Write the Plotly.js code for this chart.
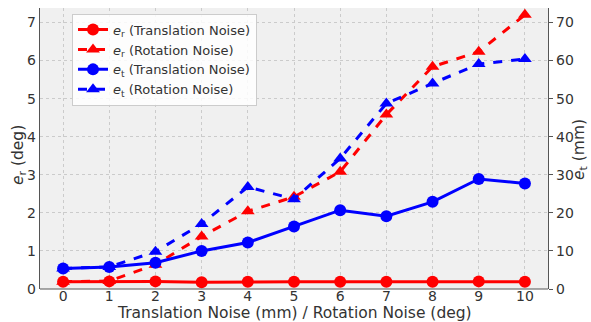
<!DOCTYPE html>
<html>
<head>
<meta charset="utf-8">
<script src="https://cdn.plot.ly/plotly-3.0.1.min.js"></script>
<style>html,body{margin:0;padding:0;background:#fff;}#chart{width:591px;height:322px;}</style>
</head>
<body>
<div id="chart"></div>
<script>
const noiseLevels = [0, 1, 2, 3, 4, 5, 6, 7, 8, 9, 10];
const erTranslation = [0.19, 0.2, 0.2, 0.18, 0.19, 0.19, 0.19, 0.19, 0.19, 0.2, 0.19];
const erRotation = [0.19, 0.21, 0.64, 1.38, 2.04, 2.42, 3.08, 4.58, 5.84, 6.23, 7.2];
const etTranslation = [5.4, 5.8, 6.9, 10.0, 12.2, 16.4, 20.7, 19.1, 22.9, 28.9, 27.7];
const etRotation = [5.4, 5.8, 9.8, 17.1, 26.8, 23.6, 34.3, 48.7, 54.0, 59.1, 60.4];
const xTickLabels = ['0','1','2','3','4','5','6','7','8','9','10'];
const xTitle = 'Translation Noise (mm) / Rotation Noise (deg)';
const yTitleLeft = '<i>e</i><sub>r</sub> (deg)';
const yTitleRight = '<i>e</i><sub>t</sub> (mm)';

const RED = '#ff0000', BLUE = '#0000ff';
const traces = [
  {x: noiseLevels, y: erTranslation, name: '<i>e</i><sub>r</sub> (Translation Noise)', mode: 'lines+markers',
   line: {color: RED, width: 3}, marker: {symbol: 'circle', size: 12, color: RED}, yaxis: 'y'},
  {x: noiseLevels, y: erRotation, name: '<i>e</i><sub>r</sub> (Rotation Noise)', mode: 'lines+markers',
   line: {color: RED, width: 3, dash: 'dash'}, marker: {symbol: 'triangle-up', size: 12, color: RED}, yaxis: 'y'},
  {x: noiseLevels, y: etTranslation, name: '<i>e</i><sub>t</sub> (Translation Noise)', mode: 'lines+markers',
   line: {color: BLUE, width: 3}, marker: {symbol: 'circle', size: 12, color: BLUE}, yaxis: 'y2'},
  {x: noiseLevels, y: etRotation, name: '<i>e</i><sub>t</sub> (Rotation Noise)', mode: 'lines+markers',
   line: {color: BLUE, width: 3, dash: 'dash'}, marker: {symbol: 'triangle-up', size: 12, color: BLUE}, yaxis: 'y2'}
];

const TXT = '#333333';
const titleFont = {family: 'DejaVu Sans', size: 15.5, color: TXT};
// plot area: x 40..548, y 8..289 (height 281)
const layout = {
  width: 591, height: 322,
  margin: {l: 40, r: 43, t: 8, b: 33},
  paper_bgcolor: '#ffffff', plot_bgcolor: '#f0f0f0',
  font: {family: 'DejaVu Sans', size: 14, color: TXT},
  showlegend: true,
  legend: {x: 0.063, y: 0.98, xanchor: 'left', yanchor: 'top', bgcolor: 'rgba(255,255,255,0.85)',
           bordercolor: '#cccccc', borderwidth: 1, font: {family: 'DejaVu Sans', size: 13, color: TXT},
           tracegroupgap: 0, itemwidth: 30},
  xaxis: {range: [-0.5, 10.5], tickvals: noiseLevels, ticktext: xTickLabels, showgrid: true,
          gridcolor: '#cbcbcb', griddash: 'dot', gridwidth: 1, zeroline: false,
          anchor: 'free', position: 3/281,
          showline: false, ticks: '', automargin: false,
          tickfont: {family: 'DejaVu Sans', size: 14, color: TXT}},
  yaxis: {range: [0, 7.38], tickvals: [0,1,2,3,4,5,6,7], showgrid: true, gridcolor: '#cbcbcb', griddash: 'dot',
          zeroline: false, showline: true, linecolor: '#555', linewidth: 1.2, ticks: '', automargin: false,
          tickfont: {family: 'DejaVu Sans', size: 14, color: TXT}},
  yaxis2: {range: [0, 73.8], tickvals: [0,10,20,30,40,50,60,70], overlaying: 'y', side: 'right', showgrid: false,
          zeroline: false, showline: true, linecolor: '#555', linewidth: 1.2, ticks: 'outside', ticklen: 4, tickcolor: '#555',
          automargin: false, tickfont: {family: 'DejaVu Sans', size: 14, color: TXT}},
  shapes: [
    {type: 'line', xref: 'paper', yref: 'paper', x0: 0, x1: 1, y0: 0, y1: 0, line: {color: '#555', width: 1.2}}
  ],
  annotations: [
    {text: xTitle, xref: 'paper', yref: 'paper', x: 0.5, y: -24/281, xanchor: 'center', yanchor: 'middle',
     showarrow: false, font: titleFont},
    {text: yTitleLeft, xref: 'paper', yref: 'paper', x: -21/508, y: (289-155)/281, xanchor: 'center', yanchor: 'middle',
     textangle: -90, showarrow: false, font: titleFont},
    {text: yTitleRight, xref: 'paper', yref: 'paper', x: 1 + 32/508, y: (289-150)/281, xanchor: 'center', yanchor: 'middle',
     textangle: -90, showarrow: false, font: titleFont}
  ]
};
Plotly.newPlot('chart', traces, layout, {displayModeBar: false, staticPlot: true});
</script>
</body>
</html>
